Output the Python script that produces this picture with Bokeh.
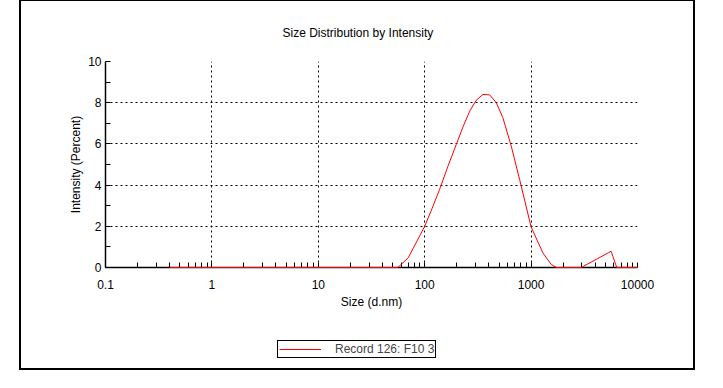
from bokeh.plotting import figure
from bokeh.layouts import column
from bokeh.models import FixedTicker, CustomJSTickFormatter, Legend, LegendItem, Title
from bokeh.embed import file_html
from bokeh.resources import INLINE

# Data
size_nm = [0.4, 56, 70, 100, 117, 138, 165, 198, 230, 265, 305, 353, 408, 471, 543,
           651, 780, 1000, 1290, 1545, 1722, 2950, 4080, 5650, 6380, 10000]
intensity = [0, 0, 0.47, 2.0, 2.85, 3.79, 4.9, 5.97, 6.85, 7.59, 8.12, 8.40, 8.38, 8.0, 7.27,
             5.89, 4.27, 1.97, 0.71, 0.15, 0, 0, 0.39, 0.79, 0, 0]
x_ticks = [0.1, 1, 10, 100, 1000, 10000]
y_ticks = [0, 2, 4, 6, 8, 10]
y_minor = [1, 3, 5, 7, 9]
series_name = "Record 126: F10 3"
title_text = "Size Distribution by Intensity"
x_label = "Size (d.nm)"
y_label = "Intensity (Percent)"

FONT = "Liberation Sans"

p = figure(x_axis_type="log", x_range=(0.1, 10000), y_range=(0, 10),
           frame_width=532, frame_height=206,
           min_border_left=84, min_border_right=56, min_border_top=60, min_border_bottom=45,
           output_backend="svg", toolbar_location=None)

t = Title(text=title_text, align="left", offset=177, text_font=FONT,
          text_font_size="12px", text_font_style="normal", text_color="black",
          standoff=43)
p.add_layout(t, "above")

p.outline_line_color = None
p.background_fill_color = "white"
p.border_fill_color = "white"

minor_x = [m * d for d in [0.1, 1, 10, 100, 1000] for m in range(2, 10)]
p.xaxis.ticker = FixedTicker(ticks=x_ticks, minor_ticks=minor_x)
p.xaxis.formatter = CustomJSTickFormatter(code="return tick.toString();")
p.yaxis.ticker = FixedTicker(ticks=y_ticks, minor_ticks=y_minor)

for ax in (p.xaxis, p.yaxis):
    ax.axis_line_color = "black"
    ax.axis_line_width = 1.5
    ax.major_tick_line_color = "black"
    ax.minor_tick_line_color = "black"
    ax.major_tick_in = 5
    ax.major_tick_out = 0
    ax.minor_tick_in = 5
    ax.minor_tick_out = 0
    ax.major_label_text_font = FONT
    ax.major_label_text_font_size = "12px"
    ax.major_label_text_color = "black"
    ax.axis_label_text_font = FONT
    ax.axis_label_text_font_size = "12px"
    ax.axis_label_text_font_style = "normal"
    ax.axis_label_text_color = "black"

p.xaxis.axis_label = x_label
p.yaxis.axis_label = y_label
p.xaxis.major_label_standoff = 12
p.yaxis.major_label_standoff = 4
p.xaxis.axis_label_standoff = 3
p.yaxis.axis_label_standoff = 2

p.xgrid.ticker = FixedTicker(ticks=x_ticks)
p.ygrid.ticker = FixedTicker(ticks=y_ticks)
for g in (p.xgrid, p.ygrid):
    g.grid_line_color = "black"
    g.grid_line_dash = "2 3"
    g.grid_line_width = 1

r = p.line(size_nm, intensity, line_color="red", line_width=1, level="overlay")

# legend strip under the plot
lf = figure(width=672, height=56, x_range=(0, 1), y_range=(0, 1),
            x_axis_location=None, y_axis_location=None,
            min_border_left=0, min_border_right=0, min_border_top=0, min_border_bottom=0,
            output_backend="svg", toolbar_location=None)
lf.outline_line_color = None
lf.xgrid.visible = False
lf.ygrid.visible = False
# legend-only renderer, kept outside the visible range
lr = lf.line(x=[-2, -1], y=[-2, -2], line_color="red", line_width=1)
legend = Legend(items=[LegendItem(label=series_name, renderers=[lr])],
                location=(172, 10), orientation="horizontal",
                border_line_color="black", border_line_width=1, border_line_alpha=1,
                background_fill_color="white", background_fill_alpha=1,
                label_text_font=FONT, label_text_font_size="12px",
                glyph_width=42, glyph_height=12, label_standoff=14,
                padding=1, margin=0, label_height=12)
lf.add_layout(legend, "center")

layout = column(p, lf, spacing=0,
                styles={"border": "2px solid black", "margin-left": "19px", "margin-top": "-1px"})

open("out.html", "w").write(file_html(layout, INLINE))
